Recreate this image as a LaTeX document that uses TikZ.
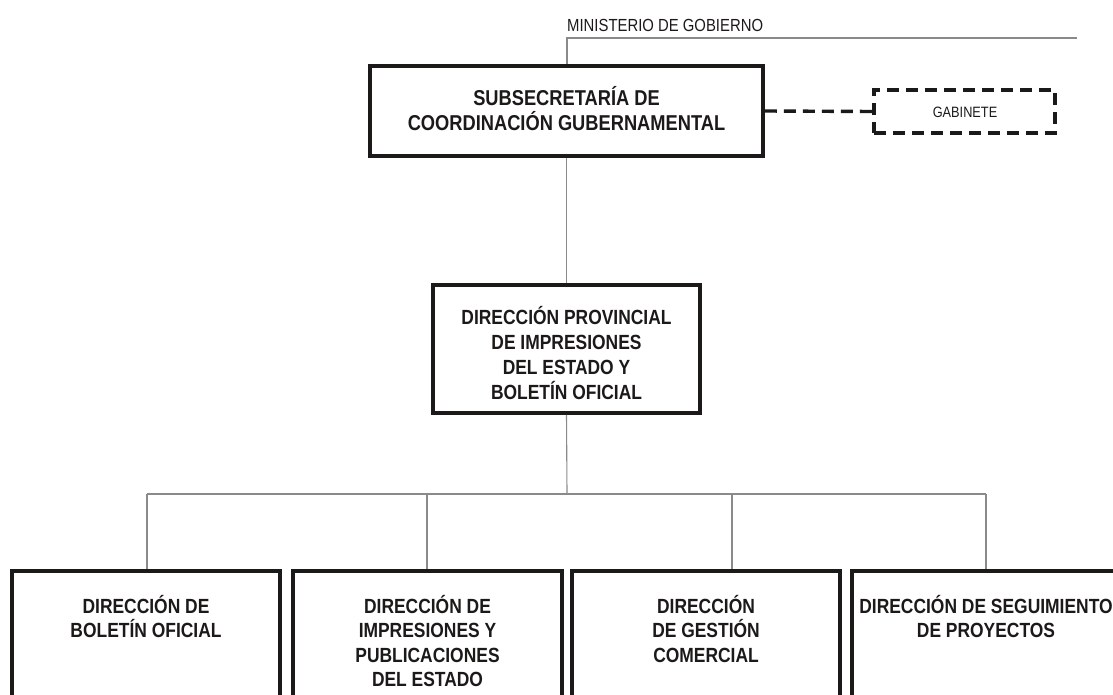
\documentclass[tikz,border=0pt]{standalone}
\usepackage{fontspec}
\setmainfont{Liberation Sans}
\newfontfamily\condfont[FakeStretch=0.85]{Liberation Sans}
\usetikzlibrary{calc}

\definecolor{linkgray}{HTML}{8A8A8A}
\definecolor{boxline}{HTML}{1C1A19}

\begin{document}
\begin{tikzpicture}[x=1pt,y=-1pt,
  orgbox/.style={draw=boxline, line width=3.6pt, inner sep=0pt, fill=white},
  staffbox/.style={draw=boxline, line width=3.4pt, inner sep=0pt,
    dash pattern=on 12pt off 7pt},
  boldtext/.style={inner sep=0pt, align=center, text=boxline,
    font=\condfont\bfseries\fontsize{20.5}{24.5}\selectfont},
  link/.style={draw=linkgray, line width=1.1pt},
  dlink/.style={draw=boxline, line width=3.4pt, dash pattern=on 12pt off 7pt}]

\useasboundingbox (0,0) rectangle (1113,695);

% upper levels
\node[orgbox, minimum width=393pt, minimum height=90pt] (sub) at (566.5,111) {};
\node[boldtext, anchor=north, font=\condfont\bfseries\fontsize{21.5}{25}\selectfont]
  (subtxt) at (566.5,86) {SUBSECRETARÍA DE\\COORDINACIÓN GUBERNAMENTAL};

\node[staffbox, minimum width=181pt, minimum height=43pt] (gab) at (964.5,111.5) {};
\node[inner sep=0pt, text=boxline, font=\condfont\fontsize{15}{17}\selectfont]
  (gabtxt) at (965,112) {GABINETE};

\node[orgbox, minimum width=267pt, minimum height=128pt] (dpi) at (566.5,349) {};
\node[boldtext, anchor=north, font=\condfont\bfseries\fontsize{20.5}{25}\selectfont]
  (dpitxt) at (566.5,306) {DIRECCIÓN PROVINCIAL\\DE IMPRESIONES\\DEL ESTADO Y\\BOLETÍN OFICIAL};

% parent ministry
\coordinate (minL) at (567,38);
\coordinate (minR) at (1077,38);
\node[inner sep=0pt, anchor=base west, text=boxline,
  font=\condfont\fontsize{17.5}{19}\selectfont] (mintxt) at (567,32) {MINISTERIO DE GOBIERNO};

% lower level directorates
\node[orgbox, minimum width=268pt, minimum height=209pt] (b1) at (146,675.5) {};
\node[orgbox, minimum width=269pt, minimum height=209pt] (b2) at (427.5,675.5) {};
\node[orgbox, minimum width=268pt, minimum height=209pt] (b3) at (706,675.5) {};
\node[orgbox, minimum width=268pt, minimum height=209pt] (b4) at (986,675.5) {};

\node[boldtext, anchor=north] (t1) at (146,595) {DIRECCIÓN DE\\BOLETÍN OFICIAL};
\node[boldtext, anchor=north] (t2) at (427.5,595) {DIRECCIÓN DE\\IMPRESIONES Y\\PUBLICACIONES\\DEL ESTADO};
\node[boldtext, anchor=north] (t3) at (706,595) {DIRECCIÓN\\DE GESTIÓN\\COMERCIAL};
\node[boldtext, anchor=north] (t4) at (986,595) {DIRECCIÓN DE SEGUIMIENTO\\DE PROYECTOS};

% connectors
\draw[link] (minR) -- (minL) -- (sub.north -| minL);
\draw[dlink] (sub.east) -- (gab.west);
\draw[link] (sub.south) -- (dpi.north);

\coordinate (bus) at (567,494);
\coordinate (d1) at (147,494);
\coordinate (d2) at (427,494);
\coordinate (d3) at (732,494);
\coordinate (d4) at (986,494);
\draw[link] (dpi.south) -- (bus);
\draw[link] (d1) -- (d4);
\draw[link] (d1) -- (d1 |- b1.north);
\draw[link] (d2) -- (d2 |- b2.north);
\draw[link] (d3) -- (d3 |- b3.north);
\draw[link] (d4) -- (d4 |- b4.north);
\end{tikzpicture}
\end{document}
